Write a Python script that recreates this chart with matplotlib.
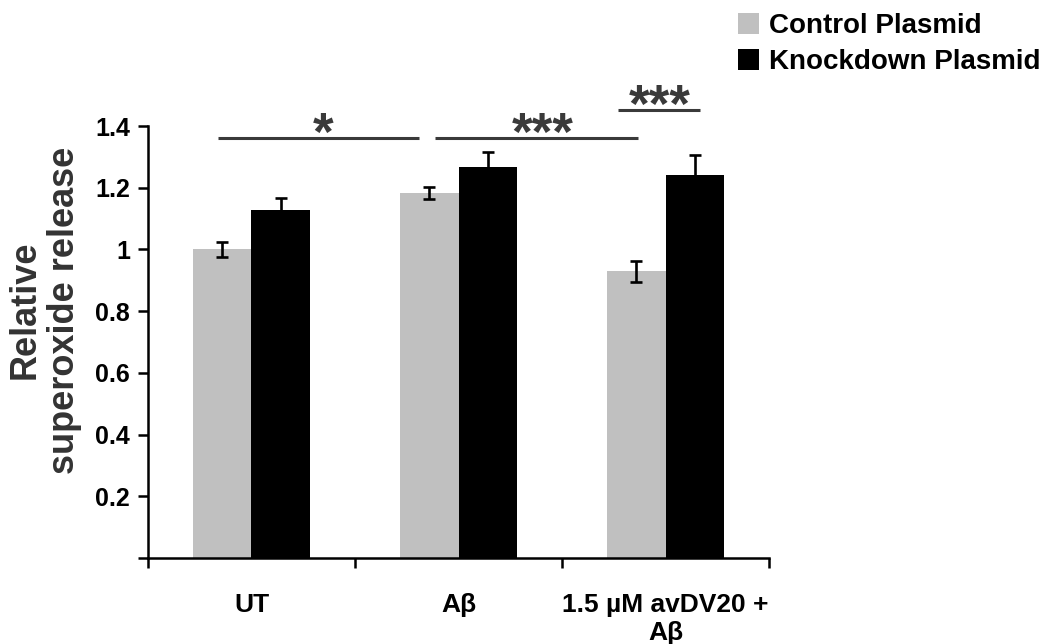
#!/usr/bin/env python3

"""Relative superoxide release, control vs knockdown plasmid."""

import matplotlib as mpl
import matplotlib.pyplot as plt
import numpy as np
from matplotlib.patches import Patch

mpl.use("Agg")

categories = ["UT", "A\u03b2", "1.5 \u00b5M avDV20 +\nA\u03b2"]
control = [1.0, 1.182, 0.930]
control_err = [0.024, 0.019, 0.034]
knockdown = [1.128, 1.268, 1.242]
knockdown_err = [0.039, 0.049, 0.064]
series_labels = ["Control Plasmid", "Knockdown Plasmid"]
y_ticks = [0.2, 0.4, 0.6, 0.8, 1.0, 1.2, 1.4]
y_tick_labels = ["0.2", "0.4", "0.6", "0.8", "1", "1.2", "1.4"]

# Significance bars: (x start, x end, y), and stars: (x, baseline y, text)
sig_lines = [(-0.16, 0.81, 1.361), (0.886, 1.867, 1.361), (1.77, 2.167, 1.452)]
sig_stars = [(0.345, 1.322, "*"), (1.408, 1.324, "***"), (1.973, 1.413, "***")]


def main():
    """Entry point."""
    plt.rcParams["font.family"] = ["Liberation Sans", "DejaVu Sans"]
    plt.rcParams["font.weight"] = "bold"

    fig = plt.figure(figsize=(10.45, 6.44), dpi=100)
    ax = fig.add_axes([0.1416, 0.1335, 0.5944, 0.6708])

    x = np.arange(len(categories))
    width = 0.283
    gray = "#c0c0c0"
    err_kw = dict(ecolor="black", elinewidth=1.9, capsize=4.5, capthick=1.9)

    ax.bar(x - width / 2, control, width, color=gray, label=series_labels[0],
           yerr=control_err, error_kw=err_kw, zorder=2)
    # lower half of the error bar disappears inside the black bar
    ax.bar(x + width / 2, knockdown, width, color="black", label=series_labels[1],
           yerr=knockdown_err, error_kw=err_kw, zorder=2)

    ax.set_xlim(-0.5, 2.5)
    ax.set_ylim(0, 1.4)

    # boundaries get tick marks, centres get labels
    ax.set_xticks(np.arange(-0.5, 3.0, 1.0))
    ax.set_xticklabels([])
    ax.set_xticks(x, minor=True)
    ax.set_xticklabels(categories, minor=True, fontsize=19, fontweight="bold")
    ax.tick_params(axis="x", which="minor", length=0, pad=25)
    ax.tick_params(axis="x", which="major", length=7, width=1.8, direction="out")

    ax.set_yticks([0] + y_ticks)
    ax.set_yticklabels([""] + y_tick_labels, fontsize=18, fontweight="bold")
    ax.tick_params(axis="y", length=7, width=1.8, direction="out", pad=6)

    for side in ["top", "right"]:
        ax.spines[side].set_visible(False)
    for side in ["left", "bottom"]:
        ax.spines[side].set_linewidth(1.8)

    ax.set_ylabel("Relative\nsuperoxide release", fontsize=26, fontweight="bold",
                  color="#333333", linespacing=1.15)
    ax.yaxis.set_label_coords(-0.166, 0.574)
    ax.yaxis.label.set_verticalalignment("center")

    for x0, x1, y in sig_lines:
        ax.plot([x0, x1], [y, y], color="#3a3a3a", lw=2.2, clip_on=False,
                solid_capstyle="butt")
    for sx, sy, s in sig_stars:
        ax.text(sx, sy, s, ha="center", va="baseline", fontsize=38,
                fontweight="bold", color="#3a3a3a", clip_on=False)

    handles = [Patch(facecolor=gray), Patch(facecolor="black")]
    fig.legend(handles, series_labels, loc="upper right",
               bbox_to_anchor=(1040 / 1045, 1 - 13 / 644), frameon=False,
               borderpad=0, borderaxespad=0,
               handlelength=0.75, handleheight=0.8, handletextpad=0.36,
               labelspacing=0.35, prop={"weight": "bold", "size": 20})

    fig.savefig("out.png", dpi=100)


if __name__ == "__main__":
    main()
